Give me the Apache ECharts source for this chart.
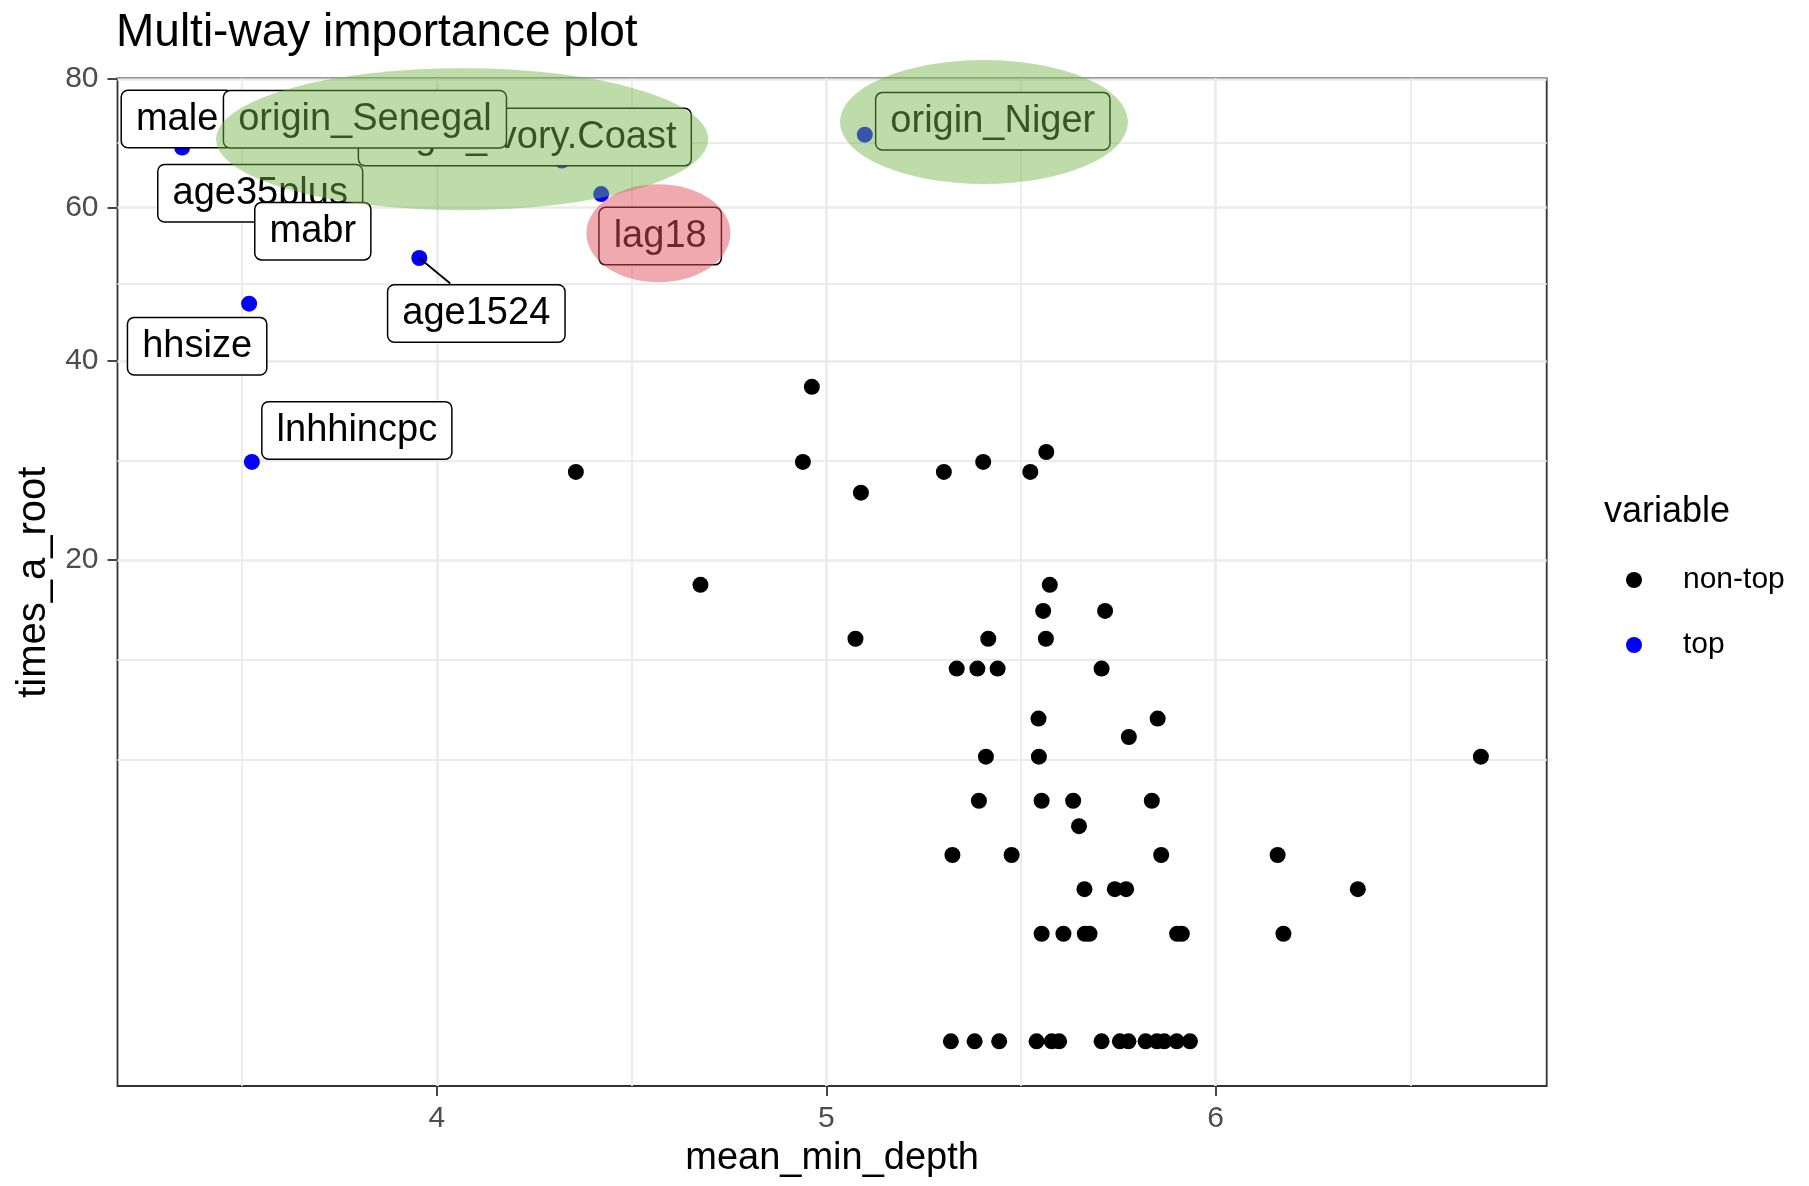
<!DOCTYPE html>
<html><head><meta charset="utf-8">
<script src="https://cdn.jsdelivr.net/npm/echarts@6/dist/echarts.min.js"></script>
<style>html,body{margin:0;padding:0;background:#fff}#chart{width:1809px;height:1186px}</style>
</head><body><div id="chart"></div>
<script>
// ---------- data ----------
const topNames = ['male','origin_Ivory.Coast','origin_Senegal','age35plus','mabr','age1524','hhsize','lnhhincpc','lag18','origin_Niger'];
const topDepth = [3.346, 4.321, 3.80, 3.68, 3.765, 3.955, 3.518, 3.525, 4.422, 5.099];
const topTimes = [69, 67, 72, 63, 54, 53, 47, 29, 62, 71];

const nonTopDepth = [
  5.320, 5.381, 5.444, 5.540, 5.579, 5.598, 5.707, 5.754, 5.776, 5.820, 5.849, 5.868, 5.900, 5.934,
  5.553, 5.609, 5.664, 5.676, 5.901, 5.913, 6.174,
  5.663, 5.741, 5.770, 6.365,
  5.324, 5.476, 5.860, 6.159,
  5.649,
  5.392, 5.553, 5.634, 5.836,
  5.410, 5.546, 6.681,
  5.777,
  5.545, 5.851,
  5.335, 5.388, 5.440, 5.707,
  5.075, 5.416, 5.564,
  5.557, 5.716,
  4.677, 5.574,
  5.089,
  4.357, 5.302, 5.524,
  4.940, 5.403,
  5.565,
  4.963
];
const nonTopTimes = [
  0,0,0,0,0,0,0,0,0,0,0,0,0,0,
  1,1,1,1,1,1,1,
  2,2,2,2,
  3,3,3,3,
  4,
  5,5,5,5,
  7,7,7,
  8,
  9,9,
  12,12,12,12,
  14,14,14,
  16,16,
  18,18,
  26,
  28,28,28,
  29,29,
  30,
  37
];

const xTicks = [4, 5, 6];
const yTicks = [20, 40, 60, 80];

// ---------- styling / layout ----------
const FONT = "'Liberation Sans', Arial, Helvetica, sans-serif";
const X_MIN = 3.180, X_MAX = 6.850;          // panel limits (mean_min_depth)
const Y_MIN = -0.415, Y_MAX = 8.95;          // panel limits in sqrt space
// repel-style label offsets (pixels) for each top label
const labelOffsets = [[-5,-28.5],[-37,-23.5],[6,-9],[-52,6],[-32.5,-19.5],[57,55.5],[-52,42.5],[105,-31.5],[59,42],[128,-13.5]];

const chart = echarts.init(document.getElementById('chart'), null, {renderer:'canvas', width:1809, height:1186});

function minorBreaks(major, lo, hi) {
  const b = major.slice();
  if (lo < b[0]) b.unshift(b[0] - (b[1] - b[0]));
  const n = b.length;
  if (hi > b[n-1]) b.push(b[n-1] + (b[n-1] - b[n-2]));
  const out = [];
  for (let i = 0; i < b.length - 1; i++) out.push(b[i], (b[i] + b[i+1]) / 2);
  out.push(b[b.length-1]);
  return out.filter(v => v >= lo && v <= hi && !major.some(m => Math.abs(m - v) < 1e-9));
}
const ySqrtTicks = yTicks.map(Math.sqrt);
const xMinor = minorBreaks(xTicks, X_MIN, X_MAX);
const yMinor = minorBreaks(ySqrtTicks, Y_MIN, Y_MAX);

const gridLines = [];
xMinor.forEach(v => gridLines.push({xAxis: v, lineStyle: {width: 1.8}}));
yMinor.forEach(v => gridLines.push({yAxis: v, lineStyle: {width: 1.8}}));
xTicks.forEach(v => gridLines.push({xAxis: v, lineStyle: {width: 2.6}}));
ySqrtTicks.forEach(v => gridLines.push({yAxis: v, lineStyle: {width: 2.6}}));

const option = {
  animation: false,
  backgroundColor: '#ffffff',
  title: [
    {text: 'Multi-way importance plot', left: 116, top: 10, padding: 0,
     textStyle: {fontSize: 46, lineHeight: 46, fontWeight: 'normal', color: '#000', fontFamily: FONT}},
    {text: 'variable', left: 1604, top: 494, padding: 0,
     textStyle: {fontSize: 36, lineHeight: 36, fontWeight: 'normal', color: '#000', fontFamily: FONT}}
  ],
  legend: {
    orient: 'vertical', left: 1626, top: 565, padding: 0,
    itemWidth: 16, itemHeight: 16, itemGap: 35, icon: 'circle', selectedMode: false,
    data: ['non-top', 'top'],
    textStyle: {fontSize: 30, lineHeight: 30, color: '#000', fontFamily: FONT, padding: [0, 0, 0, 36]}
  },
  grid: {left: 117.5, right: 262.3, top: 78.3, bottom: 100, containLabel: false, outerBoundsMode: 'none',
         show: true, borderColor: '#333333', borderWidth: 1.8, backgroundColor: '#ffffff'},
  xAxis: {
    type: 'value', min: X_MIN, max: X_MAX,
    name: 'mean_min_depth', nameLocation: 'middle', nameGap: 54,
    nameTextStyle: {fontSize: 38, lineHeight: 38, color: '#000', fontFamily: FONT},
    axisLine: {show: false, onZero: false}, splitLine: {show: false},
    axisTick: {show: true, customValues: xTicks, length: 10, lineStyle: {color: '#333333', width: 1.8}},
    axisLabel: {customValues: xTicks, margin: 18, fontSize: 30, lineHeight: 30, color: '#4D4D4D', fontFamily: FONT,
                formatter: v => String(Math.round(v))}
  },
  yAxis: {
    type: 'value', min: Y_MIN, max: Y_MAX,
    name: 'times_a_root', nameLocation: 'middle', nameGap: 58, nameRotate: 90,
    nameTextStyle: {fontSize: 40, lineHeight: 40, color: '#000', fontFamily: FONT},
    axisLine: {show: false, onZero: false}, splitLine: {show: false},
    axisTick: {show: true, customValues: ySqrtTicks, length: 10, lineStyle: {color: '#333333', width: 1.8}},
    axisLabel: {customValues: ySqrtTicks, margin: 19, fontSize: 30, lineHeight: 30, color: '#4D4D4D', fontFamily: FONT,
                formatter: v => String(Math.round(v * v))}
  },
  series: [
    {
      type: 'scatter', name: 'non-top', z: 2, symbol: 'circle', symbolSize: 16,
      itemStyle: {color: '#000000', opacity: 1},
      emphasis: {disabled: true},
      data: nonTopDepth.map((x, i) => [x, Math.sqrt(nonTopTimes[i])]),
      markLine: {silent: true, z: 1, symbol: ['none', 'none'], label: {show: false}, animation: false,
                 lineStyle: {color: '#EBEBEB', type: 'solid'}, emphasis: {disabled: true}, data: gridLines}
    },
    {
      type: 'scatter', name: 'top', z: 2, symbol: 'circle', symbolSize: 16,
      itemStyle: {color: '#0000FF', opacity: 1},
      emphasis: {disabled: true},
      data: topDepth.map((x, i) => [x, Math.sqrt(topTimes[i])])
    },
    {
      type: 'scatter', name: 'labels', z: 10, symbol: 'circle', symbolSize: 1, silent: true,
      itemStyle: {color: 'rgba(0,0,0,0)', opacity: 1},
      emphasis: {disabled: true},
      data: topNames.map((n, i) => ({name: n, value: [topDepth[i], Math.sqrt(topTimes[i])], label: {offset: labelOffsets[i]}})),
      label: {show: true, position: 'inside', formatter: p => p.name,
              fontSize: 38, lineHeight: 44, color: '#000', fontFamily: FONT,
              backgroundColor: '#ffffff', borderColor: '#000000', borderWidth: 1.5, borderRadius: 6, padding: [6, 14]}
    }
  ]
};
chart.setOption(option);

// ---------- annotations (anchored through the chart's own scales) ----------
const toPx = (x, v) => chart.convertToPixel({gridIndex: 0}, [x, Math.sqrt(v)]);
const ellipses = [
  {x: 4.065, v: 70.3, rx: 246, ry: 71, fill: 'rgba(117,181,74,0.47)'},
  {x: 5.405, v: 73.0, rx: 144, ry: 62, fill: 'rgba(117,181,74,0.47)'},
  {x: 4.569, v: 56.4, rx: 72, ry: 49, fill: 'rgba(224,82,92,0.49)'}
];
const seg = toPx(topDepth[5], topTimes[5]);
chart.setOption({
  graphic: [
    {type: 'line', z: 5, silent: true, shape: {x1: seg[0], y1: seg[1], x2: seg[0] + 31, y2: seg[1] + 25.5},
     style: {stroke: '#000', lineWidth: 1.8}}
  ].concat(ellipses.map(e => {
    const c = toPx(e.x, e.v);
    return {type: 'circle', z: 100, silent: true, x: c[0], y: c[1], scaleY: e.ry / e.rx,
            shape: {cx: 0, cy: 0, r: e.rx}, style: {fill: e.fill}};
  }))
});
</script>
</body></html>
